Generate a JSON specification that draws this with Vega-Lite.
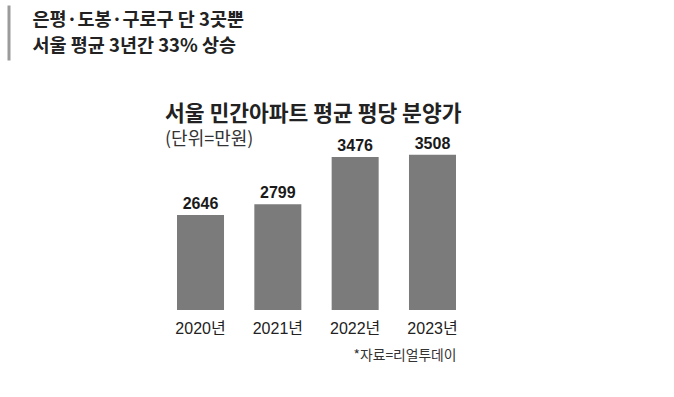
{
  "$schema": "https://vega.github.io/schema/vega-lite/v6.json",
  "padding": {"left": 7, "top": 5, "right": 0, "bottom": 0},
  "background": "white",
  "spacing": 44,
  "config": {"view": {"stroke": null}, "font": "Noto Sans CJK KR"},
  "vconcat": [
    {
      "width": 3,
      "height": 55,
      "data": {"values": [
        {"line": "은평·도봉·구로구 단 3곳뿐"},
        {"line": "서울 평균 3년간 33% 상승"}
      ]},
      "mark": {"type": "point", "opacity": 0},
      "encoding": {
        "y": {
          "field": "line",
          "type": "ordinal",
          "sort": null,
          "scale": {"padding": 0.58},
          "axis": {
            "title": null,
            "orient": "left",
            "offset": 168.5,
            "domain": true,
            "domainColor": "#9b9b9b",
            "domainWidth": 3,
            "ticks": false,
            "tickSize": 0,
            "grid": false,
            "labelAlign": "left",
            "labelBaseline": "middle",
            "labelPadding": -23.5,
            "labelFont": "Noto Sans CJK KR",
            "labelFontSize": 18.5,
            "labelFontWeight": "bold",
            "labelColor": "#222222",
            "labelLimit": 500,
            "labelOverlap": false,
            "labelBound": false,
            "minExtent": 0,
            "maxExtent": 170
          }
        }
      }
    },
    {
      "width": 279,
      "height": 160,
      "title": {
        "text": "서울 민간아파트 평균 평당 분양가",
        "subtitle": "(단위=만원)",
        "anchor": "start",
        "frame": "group",
        "dx": -12,
        "font": "Noto Sans CJK KR",
        "fontSize": 21.5,
        "fontWeight": "bold",
        "color": "#222222",
        "subtitleFont": "Noto Sans CJK KR",
        "subtitleFontSize": 18,
        "subtitleColor": "#333333",
        "subtitlePadding": 5,
        "offset": -13
      },
      "data": {"values": [
        {"year": "2020년", "value": 2646},
        {"year": "2021년", "value": 2799},
        {"year": "2022년", "value": 3476},
        {"year": "2023년", "value": 3508}
      ]},
      "encoding": {
        "x": {
          "field": "year",
          "type": "nominal",
          "sort": null,
          "scale": {"paddingInner": 0.392, "paddingOuter": 0},
          "axis": {
            "title": "*자료=리얼투데이",
            "titleAnchor": "end",
            "titleFont": "Noto Sans CJK KR",
            "titleFontSize": 13.8,
            "titleFontWeight": "normal",
            "titleColor": "#333333",
            "titlePadding": 12,
            "labelAngle": 0,
            "labelFont": "Liberation Sans, Noto Sans CJK KR",
            "labelFontSize": 16,
            "labelColor": "#222222",
            "labelPadding": 10,
            "ticks": false,
            "domain": false
          }
        }
      },
      "layer": [
        {
          "mark": {"type": "bar", "color": "#7b7b7b"},
          "encoding": {
            "y": {
              "field": "value",
              "type": "quantitative",
              "scale": {"domain": [1287, 3576], "nice": false, "zero": false},
              "axis": {"labels": false, "ticks": false, "domain": false, "grid": false, "title": null, "minExtent": 170, "maxExtent": 170}
            },
            "y2": {"datum": 1287}
          }
        },
        {
          "mark": {"type": "text", "baseline": "bottom", "dy": -3, "font": "Liberation Sans", "fontSize": 16, "fontWeight": "bold", "color": "#1a1a1a"},
          "encoding": {
            "y": {"field": "value", "type": "quantitative"},
            "text": {"field": "value", "type": "quantitative", "format": "d"}
          }
        }
      ]
    }
  ]
}
